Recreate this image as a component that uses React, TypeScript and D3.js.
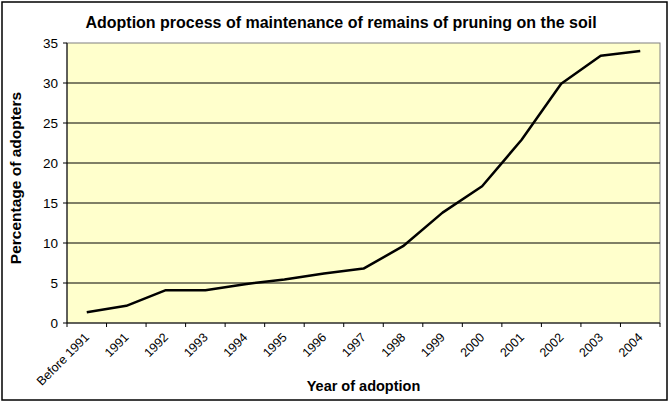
import React from "react";
import * as d3 from "d3";

const categories = ["Before 1991", "1991", "1992", "1993", "1994", "1995", "1996", "1997", "1998", "1999", "2000", "2001", "2002", "2003", "2004"];
const adopters = [1.35, 2.15, 4.1, 4.1, 4.85, 5.45, 6.2, 6.8, 9.6, 13.8, 17.1, 22.9, 29.9, 33.4, 34.0];
const yTicks = [0, 5, 10, 15, 20, 25, 30, 35];

const W = 669, H = 401;
const M = { left: 67, right: 660, top: 43, bottom: 323 };
const FONT = "'Liberation Sans', Arial, sans-serif";

export default function App() {
  const x = d3.scaleBand<string>().domain(categories).range([M.left, M.right]).padding(0);
  const y = d3.scaleLinear().domain([0, 35]).range([M.bottom, M.top]);
  const line = d3.line<number>()
    .x((_, i) => (x(categories[i]) as number) + x.bandwidth() / 2)
    .y((d) => y(d));
  const tickXs = categories.map((c) => x(c) as number).concat([M.right]);

  return (
    <svg width={W} height={H} style={{ position: "absolute", left: 0, top: 0, background: "#fff" }} fontFamily={FONT}>
      <rect x={2} y={2} width={W - 4} height={H - 3} fill="#fff" stroke="#000" strokeWidth={1.5} />
      <text x={341} y={28} textAnchor="middle" fontSize={16} fontWeight="bold">
        Adoption process of maintenance of remains of pruning on the soil
      </text>
      <rect x={M.left} y={M.top} width={M.right - M.left} height={M.bottom - M.top} fill="#FFFFCC" stroke="#808080" strokeWidth={1} />
      {yTicks.filter((t) => t > 0 && t < 35).map((t) => (
        <line key={"g" + t} x1={M.left} x2={M.right} y1={y(t)} y2={y(t)} stroke="#000" strokeWidth={1} />
      ))}
      <line x1={M.left} x2={M.left} y1={M.top} y2={M.bottom} stroke="#000" strokeWidth={1} />
      <line x1={M.left} x2={M.right} y1={M.bottom} y2={M.bottom} stroke="#000" strokeWidth={1} />
      {yTicks.map((t) => (
        <g key={"y" + t}>
          <line x1={M.left - 4} x2={M.left} y1={y(t)} y2={y(t)} stroke="#000" />
          <text x={M.left - 9} y={y(t)} dy="0.35em" textAnchor="end" fontSize={13.5}>{t}</text>
        </g>
      ))}
      {tickXs.map((tx, i) => (
        <line key={"xt" + i} x1={tx} x2={tx} y1={M.bottom} y2={M.bottom + 4} stroke="#000" />
      ))}
      {categories.map((c) => {
        const cx = (x(c) as number) + x.bandwidth() / 2;
        return (
          <text key={c} transform={`translate(${cx - 3},${M.bottom + 9}) rotate(-45)`} textAnchor="end" dy="0.7em" fontSize={12.5}>{c}</text>
        );
      })}
      <path d={line(adopters) || ""} fill="none" stroke="#000" strokeWidth={2.5} strokeLinejoin="round" />
      <text x={(M.left + M.right) / 2} y={391} textAnchor="middle" fontSize={14.5} fontWeight="bold">Year of adoption</text>
      <text transform={`translate(21,178) rotate(-90)`} textAnchor="middle" fontSize={15.5} fontWeight="bold">Percentage of adopters</text>
    </svg>
  );
}
